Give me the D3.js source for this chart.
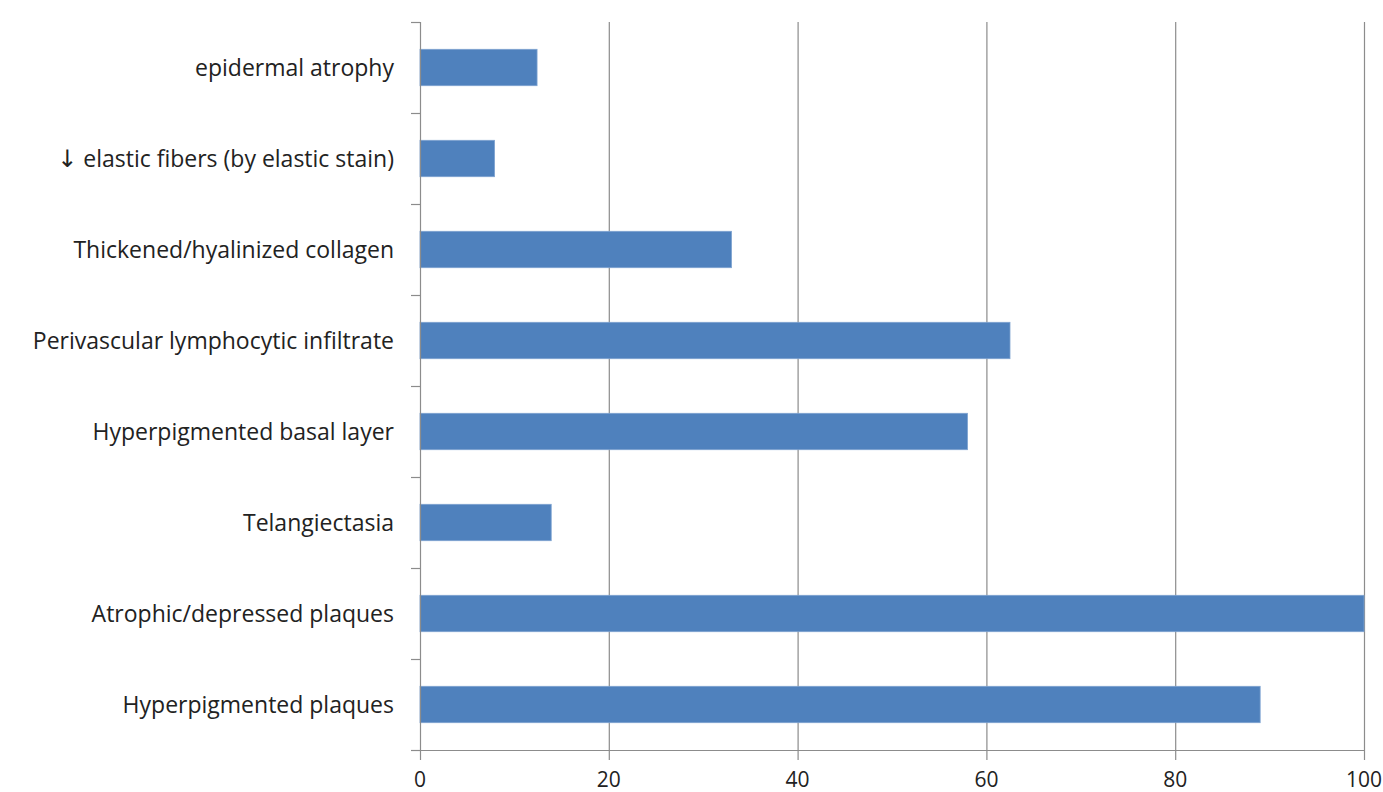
<!DOCTYPE html>
<html>
<head>
<meta charset="utf-8">
<script src="https://cdn.jsdelivr.net/npm/d3@7"></script>
<style>
  body { margin: 0; background: #fff; overflow: hidden; }
  svg { display: block; }
</style>
</head>
<body>
<div id="chart"></div>
<script>
// categories listed top to bottom
var categories = [
  "epidermal atrophy",
  "\u2193 elastic fibers (by elastic stain)",
  "Thickened/hyalinized collagen",
  "Perivascular lymphocytic infiltrate",
  "Hyperpigmented basal layer",
  "Telangiectasia",
  "Atrophic/depressed plaques",
  "Hyperpigmented plaques"
];
var values = [12.4, 7.9, 33, 62.5, 58, 13.9, 100, 89];
var xTicks = [0, 20, 40, 60, 80, 100];

var width = 1383, height = 792;
var margin = ({top: 22, right: 19, bottom: 42, left: 420});

var data = categories.map((c, i) => ({name: c, value: values[i]}));

var svg = d3.select("#chart")
  .append("svg")
  .attr("width", width)
  .attr("height", height);

var x = d3.scaleLinear()
  .domain([0, 100])
  .range([margin.left, width - margin.right]);

// paddingOuter = paddingInner/2 so one step == one category slot
var y = d3.scaleBand()
  .domain(categories)
  .range([margin.top, height - margin.bottom])
  .paddingInner(0.6)
  .paddingOuter(0.3);

var font = "Open Sans, sans-serif";
var axisColor = "#8c8c8c";

// vertical gridlines
svg.append("g")
  .selectAll("line")
  .data(xTicks.slice(1))
  .join("line")
    .attr("x1", d => x(d) + 0.5)
    .attr("x2", d => x(d) + 0.5)
    .attr("y1", margin.top)
    .attr("y2", height - margin.bottom)
    .attr("stroke", axisColor)
    .attr("stroke-width", 1.2);

// bars
svg.append("g")
  .selectAll("rect")
  .data(data)
  .join("rect")
    .attr("x", x(0))
    .attr("y", d => y(d.name))
    .attr("width", d => x(d.value) - x(0))
    .attr("height", y.bandwidth())
    .attr("fill", "#4f81bd")
    .attr("stroke", "#7ea3d0")
    .attr("stroke-width", 0.8);

// y axis, ticks sit between the categories
var yAxis = svg.append("g");
yAxis.append("line")
  .attr("x1", x(0) + 0.5).attr("x2", x(0) + 0.5)
  .attr("y1", margin.top).attr("y2", height - margin.bottom)
  .attr("stroke", axisColor).attr("stroke-width", 1.2);
yAxis.selectAll("line.tick")
  .data(d3.range(categories.length + 1))
  .join("line")
    .attr("class", "tick")
    .attr("x1", x(0) - 9).attr("x2", x(0))
    .attr("y1", i => margin.top + i * y.step() + 0.5)
    .attr("y2", i => margin.top + i * y.step() + 0.5)
    .attr("stroke", axisColor).attr("stroke-width", 1.2);

var labels = yAxis.selectAll("text")
  .data(categories)
  .join("text")
    .attr("x", x(0) - 26)
    .attr("y", d => y(d) + y.bandwidth() / 2)
    .attr("dy", "0.35em")
    .attr("text-anchor", "end")
    .attr("font-family", font)
    .attr("font-size", 23)
    .attr("fill", "#222");
labels.each(function(d) {
  var t = d3.select(this);
  if (d.startsWith("\u2193")) {
    // bigger arrow glyph like the original
    t.append("tspan").attr("font-family", "DejaVu Sans").attr("font-size", 24).text("\u2193");
    t.append("tspan").text(d.slice(1));
  } else {
    t.text(d);
  }
});

// x axis
var xAxis = svg.append("g")
  .attr("transform", `translate(0,${height - margin.bottom})`);
xAxis.append("line")
  .attr("x1", x(0) - 9).attr("x2", x(100))
  .attr("y1", 0.5).attr("y2", 0.5)
  .attr("stroke", axisColor).attr("stroke-width", 1.2);
xAxis.selectAll("line.tick")
  .data(xTicks)
  .join("line")
    .attr("class", "tick")
    .attr("x1", d => x(d) + 0.5).attr("x2", d => x(d) + 0.5)
    .attr("y1", 0).attr("y2", 10)
    .attr("stroke", axisColor).attr("stroke-width", 1.2);
xAxis.selectAll("text")
  .data(xTicks)
  .join("text")
    .attr("x", d => x(d))
    .attr("y", 37)
    .attr("text-anchor", "middle")
    .attr("font-family", font)
    .attr("font-size", 21)
    .attr("fill", "#222")
    .text(d => d);
</script>
</body>
</html>
